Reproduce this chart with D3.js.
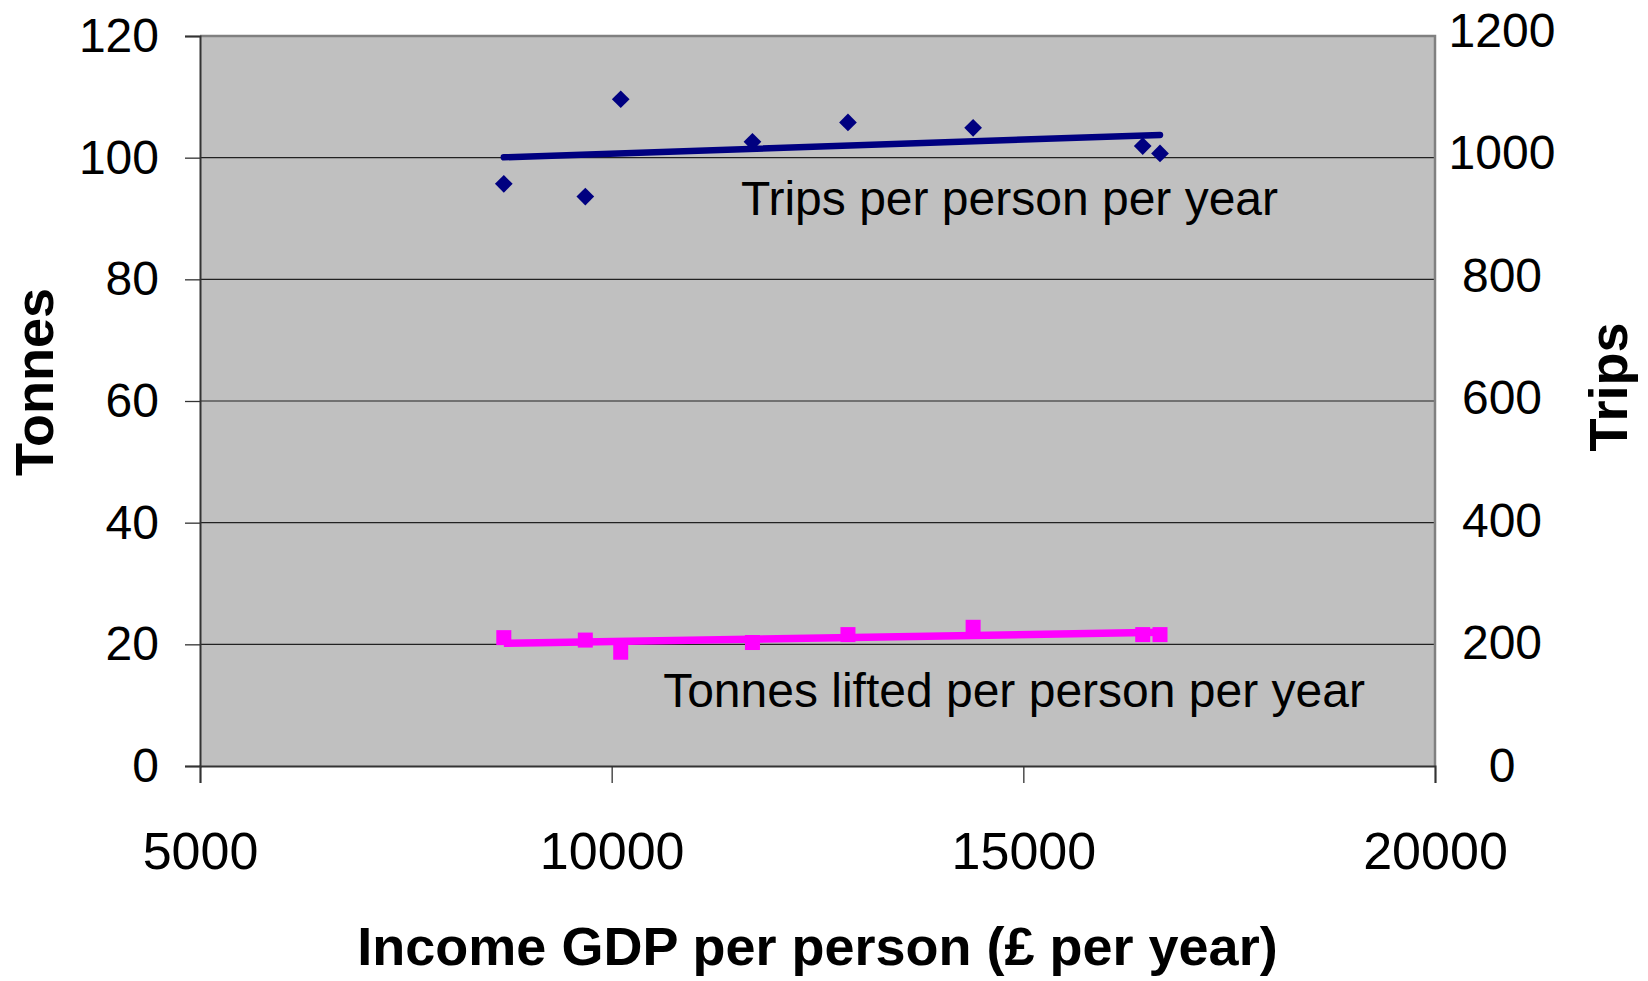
<!DOCTYPE html>
<html>
<head>
<meta charset="utf-8">
<script src="https://cdn.jsdelivr.net/npm/d3@7"></script>
<style>
  html, body { margin: 0; padding: 0; background: #fff; }
  svg { display: block; font-family: "Liberation Sans", Arial, sans-serif; }
</style>
</head>
<body>
<svg id="chart" width="1648" height="981"></svg>
<script>
// Income per head against trips and tonnes lifted, one point per year
const gdp    = [8690, 9680, 10110, 11710, 12870, 14390, 16450, 16660];
const trips  = [957, 936, 1096, 1026, 1058, 1049, 1019, 1007];
const tonnes = [21.1, 20.7, 18.7, 20.3, 21.6, 22.8, 21.6, 21.6];

const gdpTicks    = [5000, 10000, 15000, 20000];
const tonnesTicks = [0, 20, 40, 60, 80, 100, 120];
const tripsTicks  = [0, 200, 400, 600, 800, 1000, 1200];

const seriesNames = ["Trips per person per year", "Tonnes lifted per person per year"];
const axisTitles  = { x: "Income GDP per person (£ per year)", left: "Tonnes", right: "Trips" };

const W = 1648, H = 981;
const m = { left: 200, right: 213, top: 36, bottom: 215 };
const iw = W - m.left - m.right, ih = H - m.top - m.bottom;

const svg = d3.select("#chart");
const g = svg.append("g").attr("transform", `translate(${m.left},${m.top})`);

const x  = d3.scaleLinear().domain([5000, 20000]).range([0, iw]);
const yL = d3.scaleLinear().domain([0, 120]).range([ih, 0]);
const yR = d3.scaleLinear().domain([0, 1200]).range([ih, 0]);
// the secondary labels sit on a slightly taller span than the gridlines
const yRLabels = d3.scaleLinear().domain([0, 1200]).range([ih, -5]);

// plot background
g.append("rect").attr("width", iw).attr("height", ih).attr("fill", "#c0c0c0");

// horizontal gridlines
g.append("g").selectAll("line")
  .data(tonnesTicks.filter(t => t > 0 && t < 120))
  .join("line")
  .attr("x1", 0).attr("x2", iw)
  .attr("y1", d => yL(d)).attr("y2", d => yL(d))
  .attr("stroke", "#222").attr("stroke-width", 1.2);

// top and right frame
g.append("path")
  .attr("d", `M0,0H${iw}V${ih}`)
  .attr("fill", "none").attr("stroke", "#808080").attr("stroke-width", 2.5);

// left axis
const axL = g.append("g")
  .call(d3.axisLeft(yL).tickValues(tonnesTicks).tickSize(15).tickPadding(26).tickFormat(d3.format("d")));
axL.select(".domain").attr("stroke", "#333").attr("stroke-width", 2);
axL.selectAll(".tick line").attr("stroke", "#333").attr("stroke-width", 1.3);
axL.selectAll("text").attr("font-size", 48).attr("fill", "#000")
  .attr("font-family", "'Liberation Sans', Arial, sans-serif");

// bottom axis
const axB = g.append("g").attr("transform", `translate(0,${ih})`)
  .call(d3.axisBottom(x).tickValues(gdpTicks).tickSize(17).tickPadding(49).tickFormat(d3.format("d")));
axB.select(".domain").attr("stroke", "#333").attr("stroke-width", 2);
axB.selectAll(".tick line").attr("stroke", "#333").attr("stroke-width", 1.3);
axB.selectAll("text").attr("font-size", 52).attr("fill", "#000")
  .attr("font-family", "'Liberation Sans', Arial, sans-serif");

// right axis: labels only
const axR = g.append("g").attr("transform", `translate(${iw},0)`)
  .call(d3.axisRight(yRLabels).tickValues(tripsTicks).tickSize(0).tickPadding(0).tickFormat(d3.format("d")));
axR.select(".domain").remove();
axR.selectAll("text").attr("font-size", 48).attr("fill", "#000")
  .attr("text-anchor", "middle").attr("x", 67)
  .attr("font-family", "'Liberation Sans', Arial, sans-serif");

// least-squares trend line over the observed income range
function trend(xs, ys) {
  const mx = d3.mean(xs), my = d3.mean(ys);
  const sxy = d3.sum(xs, (v, i) => (v - mx) * (ys[i] - my));
  const sxx = d3.sum(xs, v => (v - mx) * (v - mx));
  const b = sxy / sxx, a = my - b * mx;
  const [x0, x1] = d3.extent(xs);
  return [[x0, a + b * x0], [x1, a + b * x1]];
}

const navy = "#000080", magenta = "#ff00ff";

// trips (right axis): diamonds + trend
const tripsPts = gdp.map((v, i) => [v, trips[i]]);
g.append("g").selectAll("path")
  .data(tripsPts)
  .join("path")
  .attr("transform", d => `translate(${x(d[0])},${yR(d[1])})`)
  .attr("d", d3.symbol(d3.symbolDiamond2, 200))
  .attr("fill", navy);

g.append("path")
  .datum(trend(gdp, trips))
  .attr("d", d3.line().x(d => x(d[0])).y(d => yR(d[1])))
  .attr("fill", "none").attr("stroke", navy).attr("stroke-width", 6.5).attr("stroke-linecap", "round");

// tonnes (left axis): squares + trend
const tonnePts = gdp.map((v, i) => [v, tonnes[i]]);
g.append("g").selectAll("rect")
  .data(tonnePts)
  .join("rect")
  .attr("x", d => x(d[0]) - 7.5).attr("y", d => yL(d[1]) - 7.5)
  .attr("width", 15).attr("height", 15)
  .attr("fill", magenta);

g.append("path")
  .datum(trend(gdp, tonnes))
  .attr("d", d3.line().x(d => x(d[0])).y(d => yL(d[1])))
  .attr("fill", "none").attr("stroke", magenta).attr("stroke-width", 7.5).attr("stroke-linecap", "butt");

// series labels inside the plot
g.append("text")
  .attr("x", x(11570)).attr("y", yR(906))
  .attr("font-size", 48).attr("fill", "#000")
  .text(seriesNames[0]);

g.append("text")
  .attr("x", x(10625)).attr("y", yL(9.7))
  .attr("font-size", 48).attr("fill", "#000")
  .text(seriesNames[1]);

// axis titles
svg.append("text")
  .attr("x", m.left + iw / 2).attr("y", 965)
  .attr("text-anchor", "middle").attr("font-size", 54).attr("font-weight", "bold")
  .text(axisTitles.x);

svg.append("text")
  .attr("transform", "translate(53,382) rotate(-90)")
  .attr("text-anchor", "middle").attr("font-size", 54).attr("font-weight", "bold")
  .text(axisTitles.left);

svg.append("text")
  .attr("transform", "translate(1627,387) rotate(-90)")
  .attr("text-anchor", "middle").attr("font-size", 54).attr("font-weight", "bold")
  .text(axisTitles.right);
</script>
</body>
</html>
